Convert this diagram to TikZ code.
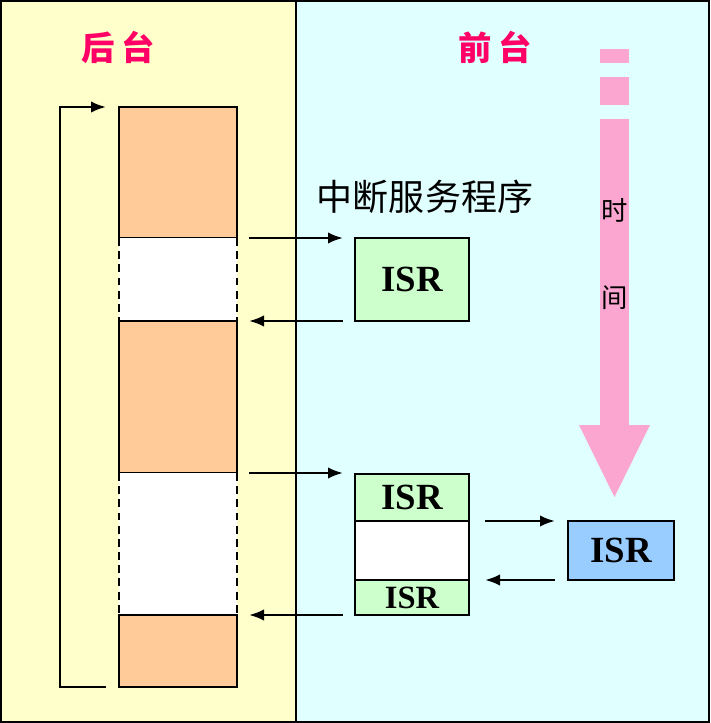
\documentclass[tikz,border=0pt]{standalone}
\usepackage{fontspec}
\setmainfont{Liberation Serif}
\newfontfamily\cjk{Noto Sans CJK SC}
\usetikzlibrary{arrows.meta}

\definecolor{backbg}{HTML}{FFFFCC}
\definecolor{forebg}{HTML}{E0FFFF}
\definecolor{taskorange}{HTML}{FFCC99}
\definecolor{isrgreen}{HTML}{CCFFCC}
\definecolor{isrblue}{HTML}{99CCFF}
\definecolor{titlered}{HTML}{FF0066}
\definecolor{timepink}{RGB}{250,166,208}

\begin{document}
\begin{tikzpicture}[x=0.02cm,y=-0.02cm,line width=1.4pt,
    flow/.style={-{Latex[length=0.3cm,width=0.23cm]}},
    isr/.style={draw,fill=isrgreen,inner sep=0pt,minimum width=2.28cm,
        font=\bfseries\fontsize{21}{21}\selectfont},
    title/.style={text=titlered,font=\cjk\bfseries\fontsize{19}{19}\selectfont}]
    \useasboundingbox (0,0) rectangle (710,723);

    % fundos
    \fill[backbg] (1,1) rectangle (296,722);
    \fill[forebg] (296,1) rectangle (709,722);
    \draw[line width=0.04cm] (1,1) rectangle (709,722);
    \draw[line width=0.04cm] (296,1) -- (296,722);

    % titulos
    \node[title] (back) at (118,47) {后\hspace{0.2em}台};
    \node[title] (fore) at (495,47) {前\hspace{0.2em}台};

    % tarefa de fundo
    \filldraw[fill=taskorange] (119,107) rectangle (237,238);
    \fill[white] (119,238) rectangle (237,321);
    \filldraw[fill=taskorange] (119,321) rectangle (237,473);
    \fill[white] (119,473) rectangle (237,615);
    \filldraw[fill=taskorange] (119,615) rectangle (237,687);
    \draw[dash pattern=on 4.5pt off 3pt] (119,238) -- (119,321) (237,238) -- (237,321);
    \draw[dash pattern=on 4.5pt off 3pt] (119,473) -- (119,615) (237,473) -- (237,615);

    % ciclo
    \coordinate (L0) at (106,687);
    \coordinate (L1) at (106,107);
    \draw[flow] (L0) -- (60,687) -- (60,107) -- (L1);

    % servico de interrupcao
    \node[font=\cjk\fontsize{20.5}{20.5}\selectfont] (label) at (425,197) {中断服务程序};
    \node[isr,minimum height=1.66cm] (isr1) at (412,279.5) {ISR};
    \node[isr,minimum height=0.94cm] (isr2) at (412,497.5) {ISR};
    \node[draw,fill=white,minimum width=2.28cm,minimum height=1.18cm] (gap) at (412,550.5) {};
    \node[isr,minimum height=0.7cm,font=\bfseries\fontsize{18.5}{18.5}\selectfont] (isr3) at (412,597.5) {ISR};
    \node[isr,fill=isrblue,minimum width=2.12cm,minimum height=1.18cm] (isr4) at (621,550.5) {ISR};

    % setas
    \coordinate (a1) at (249,238); \coordinate (b1) at (343,238);
    \coordinate (a2) at (343,321); \coordinate (b2) at (249,321);
    \coordinate (a3) at (249,473); \coordinate (b3) at (343,473);
    \coordinate (a4) at (343,615); \coordinate (b4) at (249,615);
    \coordinate (a5) at (485,521); \coordinate (b5) at (555,521);
    \coordinate (a6) at (555,580); \coordinate (b6) at (485,580);
    \foreach \i in {1,...,6}
        \draw[flow] (a\i) -- (b\i);

    % eixo do tempo
    \fill[timepink] (600,49) rectangle (629,63);
    \fill[timepink] (600,77) rectangle (629,105);
    \fill[timepink] (600,119) rectangle (629,426);
    \fill[timepink] (579,425) -- (650,425) -- (614.5,497) -- cycle;
    \node[font=\cjk\fontsize{15}{15}\selectfont] (shi) at (614.5,210) {时};
    \node[font=\cjk\fontsize{15}{15}\selectfont] (jian) at (614.5,298) {间};
\end{tikzpicture}
\end{document}
